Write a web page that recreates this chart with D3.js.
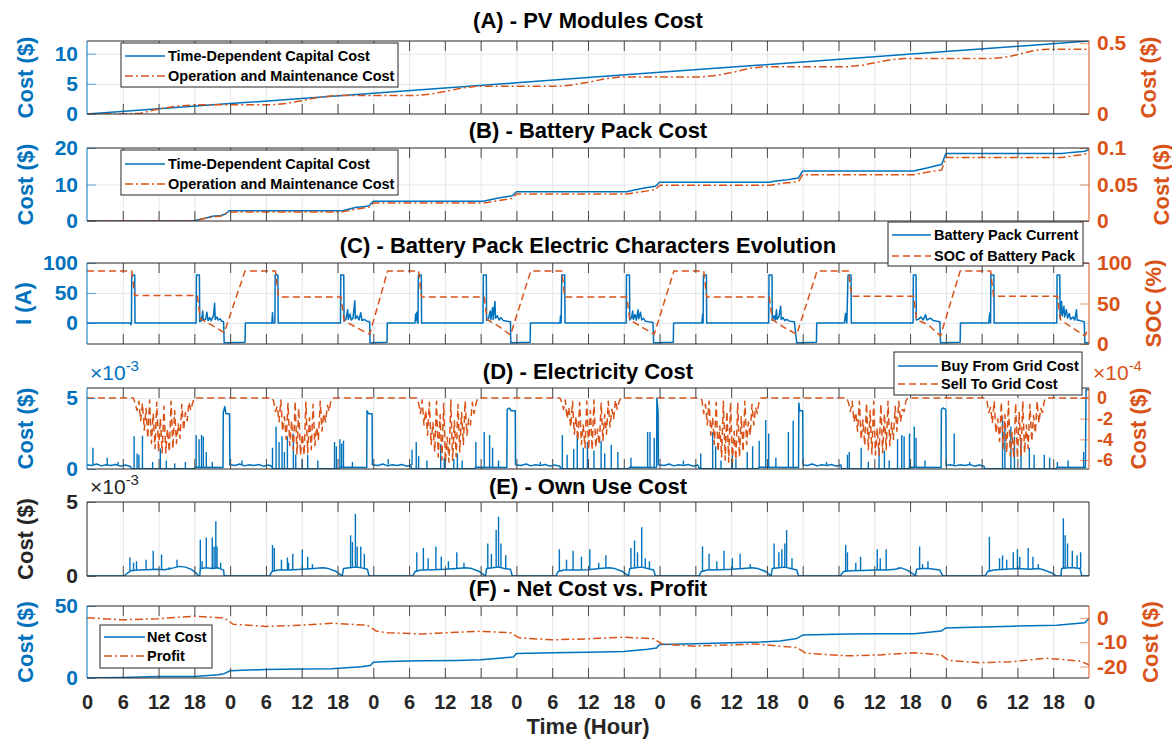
<!DOCTYPE html>
<html>
<head>
<meta charset="utf-8">
<script src="https://cdn.jsdelivr.net/npm/d3@7"></script>
<style>
  body { margin: 0; background: #fff; }
  svg text { font-family: "Liberation Sans", Arial, Helvetica, sans-serif; }
</style>
</head>
<body>
<svg id="chart" width="1172" height="740"></svg>
<script>
// ---------- data (hours 0..168, seven days) ----------
var xTickHours = [0,6,12,18,24,30,36,42,48,54,60,66,72,78,84,90,96,102,108,114,120,126,132,138,144,150,156,162,168];
var xTickLabels = ['0','6','12','18','0','6','12','18','0','6','12','18','0','6','12','18','0','6','12','18','0','6','12','18','0','6','12','18','0'];

// (A) PV modules cost
var pvCapital = [[0,0],[24,1.72],[48,3.45],[72,5.17],[96,6.9],[120,8.62],[144,10.35],[168,12.1]];
var pvOM = [[0,0],[6.5,0],[9,0.006],[12,0.035],[15,0.055],[18,0.065],
  [31,0.065],[33.5,0.075],[36.5,0.098],[39,0.12],[41.5,0.13],
  [55,0.13],[57.5,0.14],[60.5,0.163],[63,0.185],[65.5,0.196],
  [79,0.196],[81.5,0.206],[84.5,0.228],[87,0.25],[89.5,0.262],
  [103,0.262],[105.5,0.272],[108.5,0.296],[111,0.322],[113.5,0.334],
  [127.4,0.334],[130,0.345],[132.5,0.365],[135,0.385],[137,0.393],
  [152,0.393],[154.5,0.405],[157,0.43],[159,0.45],[161,0.458],[168,0.458]];

// (B) battery pack cost
var batCapital = [[0,0],[17.8,0],[18.5,0.3],[20,0.8],[21,1.3],[22.5,1.5],[23.3,2.0],[23.8,2.8],
  [42.8,2.8],[43.5,3.1],[45,3.7],[46.5,4.0],[47.3,4.2],[48,5.4],
  [66.5,5.4],[67.2,5.7],[69,6.3],[70.5,6.7],[71.3,6.9],[72,8.0],
  [90.5,8.0],[91.2,8.3],[93,8.9],[94.5,9.3],[95.3,9.5],[96,10.6],
  [114.5,10.6],[115.2,10.9],[117,11.2],[118.5,11.6],[119.3,11.8],[120,13.7],
  [138.6,13.7],[139.3,14.0],[141,14.6],[142.5,15.2],[143.3,15.5],[144,18.5],
  [163.5,18.5],[165,18.8],[166.5,19.0],[167.3,19.1],[168,19.6]];
var batOM = [[0,0],[17.8,0],[20,0.004],[22.5,0.007],[23.8,0.0125],
  [42.8,0.0125],[45,0.016],[47.3,0.019],[48,0.0245],
  [66.5,0.0245],[69,0.028],[71.3,0.031],[72,0.037],
  [90.5,0.037],[93,0.04],[95.3,0.043],[96,0.049],
  [114.5,0.049],[117,0.052],[119.3,0.054],[120,0.0635],
  [138.6,0.0635],[141,0.067],[143.3,0.07],[144,0.087],
  [163.5,0.087],[165,0.089],[167.3,0.0915],[168,0.095]];

// (C) battery current (A) and state of charge (%)
var batCurrent = [[0,0],[7.3,0],[7.35,-3],[7.45,0],[7.5,80],[8.0,80],[8.05,0],
  [18.3,0],[18.35,80],[18.85,80],[18.9,2],[19.2,4],[19.4,20],[19.5,5],[19.9,6],[20.1,18],[20.3,4],[20.6,9],[20.8,4],[21.2,12],[21.4,33],[21.5,6],[21.8,10],[22.0,5],[22.3,7],[22.6,3],[22.9,2],[23.0,-33],
  [26.5,-32],[26.55,0],[31.0,0],[31.1,17],[31.2,0],[31.5,0],[31.55,80],[32.0,80],[32.05,0],
  [42.5,0],[42.55,80],[43.05,80],[43.1,3],[43.4,6],[43.7,22],[43.8,6],[44.1,15],[44.3,5],[44.6,8],[44.9,37],[45.0,7],[45.3,12],[45.6,5],[45.9,17],[46.1,4],[46.5,6],[46.9,3],[47.4,2],[47.45,-33],
  [50.3,-32],[50.35,0],[55.0,0],[55.1,15],[55.2,5],[55.3,18],[55.4,0],[55.5,0],[55.55,80],[56.05,80],[56.1,0],
  [66.4,0],[66.45,80],[66.95,80],[67.0,4],[67.3,7],[67.6,20],[67.7,5],[68.0,26],[68.1,6],[68.4,36],[68.5,8],[68.8,12],[69.1,5],[69.4,9],[69.8,4],[70.4,3],[71.0,2],[71.05,-33],
  [74.3,-32],[74.35,0],[79.3,0],[79.4,12],[79.5,0],[79.6,80],[80.1,80],[80.15,0],
  [90.4,0],[90.45,80],[90.95,80],[91.0,5],[91.3,9],[91.5,20],[91.6,6],[91.9,14],[92.1,5],[92.4,22],[92.5,7],[92.8,18],[93.0,5],[93.3,8],[93.6,3],[94.2,2],[94.9,1],[95.0,-33],
  [98.3,-32],[98.35,0],[103.1,0],[103.2,14],[103.3,0],[103.35,80],[103.85,80],[103.9,0],
  [114.3,0],[114.35,80],[114.85,80],[114.9,4],[115.2,12],[115.4,5],[115.6,22],[115.7,6],[116.0,10],[116.3,28],[116.4,6],[116.7,9],[117.0,4],[117.3,6],[117.8,3],[118.6,2],[119.0,-33],
  [122.3,-32],[122.35,0],[127.0,0],[127.1,10],[127.2,16],[127.3,5],[127.4,0],[127.6,80],[128.1,80],[128.15,0],
  [138.5,0],[138.55,80],[139.0,80],[139.05,5],[139.4,6],[139.8,10],[140.2,5],[140.6,14],[140.8,5],[141.4,8],[141.9,4],[142.5,3],[143.0,2],[143.1,-33],
  [146.4,-32],[146.45,0],[151.2,0],[151.3,12],[151.4,17],[151.5,0],[151.55,80],[152.05,80],[152.1,0],
  [162.6,0],[162.65,80],[163.1,80],[163.15,8],[163.4,36],[163.5,12],[163.8,28],[163.9,10],[164.2,22],[164.4,8],[164.7,16],[164.9,6],[165.3,10],[165.6,5],[165.9,22],[166.0,5],[166.5,4],[167.2,2],[167.3,-33],[168,-33]];
var batSOC = [[0,90],[7.5,90],[8.0,60],[18.5,60],[19.0,31],[21,23],[23,14],[26.5,90],
  [31.6,90],[32.1,58],[42.6,58],[43.1,29],[45,21],[47.4,12],[50.4,90],
  [55.6,90],[56.1,58],[66.6,58],[67.1,30],[69,22],[71,11],[74.4,90],
  [79.6,90],[80.1,58],[90.5,58],[91,30],[93,21],[95.1,12],[98.4,90],
  [103.4,90],[103.9,58],[114.4,58],[114.9,30],[117,20],[119,12],[122.4,90],
  [127.7,90],[128.2,59],[138.6,59],[139.1,30],[141,24],[143.1,10],[146.4,90],
  [151.5,90],[152,59],[162.7,59],[163.2,30],[165,21],[167.3,10],[168,20]];

// (D) buy from grid (x1e-3 $): base line and spikes [hour, from, to]
var gridBuyBase = [[0,0.3],[0.8,0.25],[1.6,0.35],[2.4,0.22],[3.2,0.3],[4.0,0.25],[4.8,0.32],[5.6,0.2],[6.4,0.28],[7.2,0.2],[7.5,0.02],[18.0,0.02],[18.2,0.12],[22.8,0.1],[22.85,4.0],[23.1,4.4],[23.3,3.9],[23.9,3.9],[23.95,0.3],
  [24.8,0.25],[25.6,0.35],[26.4,0.22],[27.2,0.3],[28.0,0.25],[28.8,0.32],[29.6,0.2],[30.4,0.28],[31.0,0.2],[31.1,0.02],[42.3,0.02],[42.5,0.12],[46.9,0.1],[46.95,4.1],[47.2,3.9],[47.8,3.9],[47.85,0.3],
  [48.8,0.25],[49.6,0.35],[50.4,0.22],[51.2,0.3],[52.0,0.25],[52.8,0.32],[53.6,0.2],[54.3,0.28],[54.4,0.02],[65.0,0.02],[65.2,0.12],[70.4,0.1],[70.45,4.2],[70.8,4.3],[71.1,4.1],[71.8,4.1],[71.85,0.3],
  [72.8,0.25],[73.6,0.35],[74.4,0.22],[75.2,0.3],[76.0,0.25],[76.8,0.32],[77.6,0.2],[78.4,0.28],[79.3,0.2],[79.4,0.02],[90.8,0.02],[91.0,0.12],[95.5,0.1],[95.55,5.0],[95.75,4.0],[95.8,0.3],
  [96.8,0.25],[97.6,0.35],[98.4,0.22],[99.2,0.3],[100.0,0.25],[100.8,0.32],[101.6,0.2],[102.4,0.28],[102.7,0.02],[112.5,0.02],[112.7,0.12],[119.3,0.1],[119.35,4.65],[119.5,4.1],[120.0,4.1],[120.05,0.28],
  [120.8,0.25],[121.6,0.35],[122.4,0.22],[123.2,0.3],[124.0,0.25],[124.8,0.32],[125.6,0.2],[126.4,0.28],[126.5,0.02],[137.7,0.02],[137.9,0.12],[143.2,0.1],[143.25,4.2],[143.5,4.3],[144.0,4.2],[144.05,0.25],
  [144.8,0.3],[145.6,0.22],[146.4,0.3],[147.2,0.25],[148.0,0.32],[148.8,0.2],[149.6,0.28],[150.4,0.2],[150.5,0.02],[162.5,0.02],[162.7,0.12],[167.4,0.1],[167.5,5.6],[168,5.6]];
var gridBuySpikes = [[1.0,0.3,1.5],[3.4,0.3,0.8],[5.2,0.3,0.5],[7.9,0.02,2.3],[8.4,0.02,1.1],[8.7,0.02,1.0],[9.3,0.02,2.35],[11.0,0.02,0.5],[12.3,0.02,1.45],[13.3,0.02,0.6],[14.7,0.02,0.4],[16.5,0.02,0.5],[18.3,0.1,2.4],[18.8,0.1,2.1],[19.2,0.1,2.4],[19.5,0.1,2.3],[20.0,0.1,1.2],[21.0,0.1,0.5],
  [26.0,0.3,0.6],[31.1,0.02,1.5],[31.7,0.02,3.0],[32.2,0.02,1.9],[32.7,0.02,2.3],[33.1,0.02,1.2],[33.6,0.02,2.3],[34.6,0.02,2.5],[35.0,0.02,1.0],[36.1,0.02,0.7],[37.0,0.02,1.0],[38.7,0.02,0.6],[41.5,0.02,1.9],[41.8,0.02,1.6],[42.4,0.1,2.1],[42.7,0.1,1.8],[43.0,0.1,2.0],[44.5,0.1,0.5],
  [50.5,0.3,0.7],[54.5,0.28,1.35],[55.2,0.02,1.9],[55.6,0.02,0.9],[57.0,0.02,0.6],[59.3,0.02,1.75],[59.9,0.02,0.8],[61.5,0.02,0.7],[62.1,0.02,1.1],[62.9,0.02,0.6],[65.2,0.1,1.9],[66.6,0.1,2.6],[67.5,0.1,2.4],[68.0,0.1,1.5],[69.0,0.1,0.6],
  [76.0,0.3,0.5],[79.7,0.02,2.4],[80.5,0.02,1.0],[81.6,0.02,1.4],[82.2,0.02,2.4],[83.2,0.02,1.5],[83.9,0.02,1.9],[85.0,0.02,1.3],[86.2,0.02,2.0],[86.8,0.02,1.1],[87.9,0.02,1.7],[89.0,0.02,1.2],[91.2,0.1,0.8],[94.0,0.1,2.6],[94.4,0.1,2.6],[95.1,0.1,2.2],
  [100.0,0.3,0.6],[102.9,0.02,1.1],[104.9,0.02,2.6],[105.4,0.02,1.6],[106.3,0.02,0.6],[108.2,0.02,1.0],[108.8,0.02,0.7],[110.7,0.02,1.2],[111.6,0.02,1.6],[112.7,0.1,2.0],[113.8,0.1,3.45],[114.3,0.1,2.5],[115.5,0.1,0.8],[117.6,0.1,2.6],[118.4,0.1,3.4],
  [124.0,0.3,0.5],[127.5,0.02,1.0],[127.8,0.02,1.2],[129.8,0.02,1.5],[131.0,0.02,0.5],[132.8,0.02,1.5],[133.7,0.02,1.3],[134.5,0.02,0.6],[135.9,0.02,2.1],[136.6,0.02,2.4],[137.0,0.02,2.3],[137.9,0.1,2.5],[138.7,0.1,3.0],[139.0,0.1,2.2],[140.5,0.1,0.6],[145.4,0.3,2.5],
  [148.0,0.3,0.5],[153.5,0.02,3.7],[153.9,0.02,3.0],[154.9,0.02,3.0],[155.5,0.02,2.3],[156.6,0.02,2.0],[158.0,0.02,1.5],[158.8,0.02,1.0],[160.5,0.02,1.0],[161.4,0.02,0.8],[162.7,0.1,0.5],[164.5,0.1,0.6],[167.1,0.1,1.2]];

// (D) sell to grid (x1e-4 $), one daytime run per day, sampled every 0.3 h
var sellStarts = [7.8, 31.0, 55.3, 79.3, 102.8, 127.4, 150.6];
var sellStep = 0.3;
var sellDay1 = [0,-0.6,-1.2,-0.3,-2.2,-0.5,-3.1,-1.0,-3.9,-0.2,-4.4,-1.5,-4.9,-0.4,-5.2,-2.0,-5.3,-0.8,-5.3,-3.0,-5.2,-0.3,-4.9,-1.2,-4.4,-2.5,-3.9,-0.6,-3.1,-1.4,-2.2,-0.4,-1.2,-0.5,0];
var sellDay2 = [0,-0.3,-1.3,-0.8,-2.3,-0.2,-3.2,-1.8,-4.0,-0.5,-4.6,-2.2,-5.0,-0.3,-5.4,-1.0,-5.5,-3.5,-5.5,-0.4,-5.3,-1.9,-5.0,-0.6,-4.6,-2.8,-4.0,-0.3,-3.2,-1.5,-2.3,-0.7,-1.3,-0.2,0];
var sellDay3 = [0,-0.5,-1.5,-0.2,-2.6,-1.2,-3.6,-0.4,-4.5,-2.4,-5.2,-0.3,-5.7,-1.6,-6.0,-0.5,-6.2,-3.8,-6.2,-0.2,-6.0,-2.2,-5.7,-0.6,-5.2,-1.4,-4.5,-0.3,-3.6,-2.0,-2.6,-0.4,-1.5,-0.6,0];
var sellDay4 = [0,-0.4,-1.1,-0.2,-2.0,-0.9,-2.8,-0.3,-3.5,-1.8,-4.1,-0.4,-4.5,-2.6,-4.8,-0.3,-5.0,-1.2,-5.0,-0.2,-4.8,-3.0,-4.5,-0.5,-4.1,-1.6,-3.5,-0.3,-2.8,-1.1,-2.0,-0.2,-1.1,-0.4,0];
var sellDay5 = [0,-0.2,-1.5,-0.6,-2.6,-0.3,-3.6,-1.9,-4.5,-0.4,-5.2,-2.7,-5.7,-0.3,-6.0,-1.3,-6.2,-0.4,-6.2,-3.2,-6.0,-0.5,-5.7,-1.8,-5.2,-0.3,-4.5,-2.3,-3.6,-0.6,-2.6,-0.9,-1.5,-0.2,0];
var sellDay6 = [0,-0.5,-1.3,-0.3,-2.3,-1.4,-3.2,-0.3,-4.0,-2.1,-4.6,-0.5,-5.0,-1.2,-5.4,-0.3,-5.5,-2.9,-5.5,-0.6,-5.3,-1.5,-5.0,-0.3,-4.6,-2.4,-4.0,-0.8,-3.2,-0.3,-2.3,-1.1,-1.3,-0.3,0];
var sellDay7 = [0,-0.3,-1.4,-0.9,-2.4,-0.3,-3.4,-2.0,-4.2,-0.4,-4.9,-1.6,-5.3,-0.3,-5.6,-3.3,-5.8,-0.5,-5.8,-1.4,-5.6,-0.3,-5.3,-2.6,-4.9,-0.6,-4.2,-1.7,-3.4,-0.3,-2.4,-1.0,-1.4,-0.3,0];

// (E) own use cost (x1e-3 $)
var ownUseBase = [[0,0],[6.2,0],[6.8,0.2],[7.3,0.35],[8.5,0.4],[10,0.42],[11.5,0.45],[13,0.42],[14.5,0.55],[15.5,0.65],[16.5,0.6],[17.5,0.45],[18.3,0.2],[18.7,0],[18.9,0],[19.0,0.5],[20,0.55],[21,0.5],[22,0.55],[22.9,0.4],[23.0,0],
  [30.6,0],[31.0,0.3],[32,0.4],[34,0.4],[36,0.45],[38,0.5],[39.5,0.55],[40.5,0.5],[41.8,0.3],[42.5,0.1],[42.8,0],[43.0,0.5],[44,0.55],[45,0.6],[46,0.55],[47,0.45],[47.3,0],
  [54.6,0],[55.0,0.3],[56,0.4],[58,0.42],[60,0.45],[62,0.5],[63.5,0.55],[64.5,0.5],[65.8,0.3],[66.5,0.1],[66.8,0],[67.0,0.5],[68,0.55],[69,0.6],[70,0.5],[71,0.45],[71.3,0],
  [78.6,0],[79.0,0.3],[80,0.4],[82,0.4],[84,0.42],[86,0.5],[87.5,0.55],[88.5,0.5],[89.8,0.3],[90.5,0.1],[90.8,0],[91.0,0.5],[92,0.55],[93,0.6],[94,0.5],[95,0.4],[95.3,0],
  [102.6,0],[103.0,0.3],[104,0.4],[106,0.42],[108,0.45],[110,0.5],[111.5,0.55],[112.5,0.5],[113.8,0.3],[114.4,0.1],[114.7,0],[114.9,0.5],[116,0.55],[117,0.6],[118,0.5],[119,0.4],[119.3,0],
  [126.3,0],[126.8,0.3],[128,0.35],[130,0.38],[132,0.4],[134,0.4],[135.5,0.45],[136.5,0.55],[137.5,0.4],[138.5,0.15],[138.9,0],[139.1,0.45],[140,0.5],[141,0.5],[142,0.45],[143,0.4],[143.5,0],
  [150.6,0],[151.0,0.3],[152,0.4],[154,0.45],[156,0.5],[158,0.45],[159.5,0.5],[160.5,0.4],[161.8,0.2],[162.5,0],[163.3,0],[163.4,0.5],[164.5,0.55],[165.5,0.55],[166.5,0.5],[166.8,0],[168,0]];
var ownUseSpikes = [[7.2,0.35,1.25],[7.8,0.38,0.9],[8.3,0.4,1.0],[9.9,0.42,1.1],[11.1,0.44,1.7],[12.5,0.44,1.45],[13.8,0.42,0.6],[15.1,0.6,1.1],[19.0,0.5,2.45],[19.3,0.5,1.0],[20.0,0.55,2.6],[21.0,0.5,2.6],[21.3,0.5,2.0],[21.6,0.5,3.7],[21.8,0.5,2.0],[22.4,0.5,0.9],
  [31.1,0.3,2.1],[31.4,0.35,1.9],[32.6,0.4,1.1],[33.6,0.4,1.25],[33.8,0.4,0.9],[34.5,0.4,1.5],[36.1,0.45,1.8],[37.0,0.45,1.3],[37.8,0.48,0.8],[39.8,0.55,0.6],[44.2,0.55,2.75],[44.5,0.55,2.3],[45.0,0.6,4.2],[45.3,0.6,2.0],[45.9,0.55,2.0],[46.5,0.5,1.5],
  [55.3,0.3,1.6],[56.4,0.4,1.9],[57.2,0.4,1.2],[58.5,0.42,2.0],[59.4,0.43,1.3],[60.6,0.45,1.0],[62.0,0.5,1.6],[63.2,0.53,0.9],[67.2,0.5,2.2],[67.8,0.55,1.5],[68.6,0.6,3.1],[69.0,0.6,4.0],[69.4,0.55,2.2],[70.2,0.5,1.4],
  [79.2,0.3,1.8],[80.4,0.4,1.1],[81.5,0.4,1.7],[82.9,0.41,1.3],[84.3,0.42,1.8],[85.8,0.5,0.9],[87.0,0.53,1.4],[91.2,0.5,1.9],[91.8,0.55,2.4],[92.3,0.55,1.6],[93.0,0.6,3.3],[93.6,0.55,1.2],[94.3,0.5,1.0],
  [103.2,0.3,2.0],[104.3,0.4,1.5],[105.6,0.42,1.0],[106.8,0.43,1.7],[108.2,0.45,1.2],[109.5,0.48,1.5],[111.2,0.55,0.8],[115.2,0.5,2.2],[116.0,0.55,1.6],[116.5,0.55,1.8],[117.0,0.6,2.2],[117.3,0.6,3.1],[118.2,0.5,1.2],
  [127.2,0.3,2.1],[127.5,0.32,1.6],[128.9,0.36,0.9],[129.7,0.37,1.3],[132.5,0.4,1.8],[133.0,0.4,1.2],[134.0,0.4,1.8],[136.1,0.5,0.6],[139.6,0.45,2.0],[140.1,0.5,0.8],[141.0,0.5,1.0],
  [151.3,0.3,2.65],[153.0,0.45,1.2],[153.5,0.45,1.4],[154.2,0.46,1.1],[155.3,0.48,1.6],[156.0,0.5,1.8],[156.4,0.5,1.3],[157.8,0.46,1.9],[158.6,0.45,1.3],[159.5,0.5,0.8],[163.7,0.5,3.9],[164.0,0.5,2.75],[164.4,0.55,2.2],[165.2,0.55,1.7],[166.0,0.55,1.4],[166.6,0.5,1.6]];

// (F) net cost and profit
var netCost = [[0,0],[6,0.4],[12,1.1],[18,1.1],[22,2.3],[23,3],[24,5.0],[30,5.9],[36,6.2],[41,6.4],[46,7.8],[47.5,8.7],[48,11],[50.4,11.4],[56,11.9],[62,12.2],[66,12.6],[70,14],[71.5,14.6],[72,17],[78,17.5],[84,17.9],[90,18.4],[94,20],[95.5,20.8],[96,23.3],[102,23.8],[108,24.5],[113,25],[116.2,25.7],[119,27.5],[120,29.8],[127.6,30.6],[133,30.7],[138.7,30.7],[143.2,32.6],[144,34.8],[150,35.4],[155.3,36],[162.6,36.7],[167.3,38.3],[168,41.3]];
var profit = [[0,0.1],[6,-0.8],[12,-0.3],[18,0.7],[23,0],[24.5,-2.6],[30,-3.5],[36,-3.0],[41,-2.2],[47,-3.0],[48.5,-5.4],[50.4,-6.1],[56,-6.6],[62,-5.9],[66,-5.5],[71,-6.1],[72.5,-8.2],[78,-9.0],[84,-8.6],[90,-7.9],[95,-8.6],[96.5,-10.8],[102,-11.6],[108,-11.1],[112,-10.7],[116.2,-11.6],[119,-12.2],[120.5,-14.5],[127.6,-15.6],[133,-15.2],[138.7,-14.3],[143.2,-15.2],[144.5,-17.5],[149.7,-18.4],[155,-18.0],[160.8,-16.6],[166.4,-17.7],[168,-19.3]];

// ---------- drawing ----------
var BLUE = '#0072BD', ORANGE = '#D95319', DARK = '#262626';
var DASHDOT = '8,3,2,3', DASHED = '7,4';
var svg = d3.select('#chart');
var x = d3.scaleLinear().domain([0, 168]).range([87, 1089]);

// sell-to-grid series assembled from the daily runs
var sellDays = [sellDay1, sellDay2, sellDay3, sellDay4, sellDay5, sellDay6, sellDay7];
var gridSell = [[0, 0]];
sellDays.forEach(function (vals, k) {
  vals.forEach(function (v, i) { gridSell.push([sellStarts[k] + i * sellStep, v]); });
});
gridSell.push([168, 0]);

var panels = [
  { id: 'A', top: 41, bottom: 114, title: '(A) - PV Modules Cost', titleY: 28,
    left: { domain: [0, 12.1], ticks: [0, 5, 10], labels: ['0', '5', '10'], grid: [5, 10], color: BLUE, label: 'Cost ($)', labelX: 25 },
    right: { domain: [0, 0.516], ticks: [0, 0.5], labels: ['0', '0.5'], color: ORANGE, label: 'Cost ($)', labelX: 1148 },
    series: [{ data: pvCapital, side: 'left', color: BLUE }, { data: pvOM, side: 'right', color: ORANGE, dash: DASHDOT }],
    legend: { x: 121, y: 43, w: 277, h: 44, lx: [125, 165], tx: 168, rows: [56, 76],
      items: [['Time-Dependent Capital Cost', BLUE, null], ['Operation and Maintenance Cost', ORANGE, DASHDOT]] } },
  { id: 'B', top: 148, bottom: 221, title: '(B) - Battery Pack Cost', titleY: 138,
    left: { domain: [0, 20], ticks: [0, 10, 20], labels: ['0', '10', '20'], grid: [10], color: BLUE, label: 'Cost ($)', labelX: 25 },
    right: { domain: [0, 0.1], ticks: [0, 0.05, 0.1], labels: ['0', '0.05', '0.1'], color: ORANGE, label: 'Cost ($)', labelX: 1161 },
    series: [{ data: batCapital, side: 'left', color: BLUE }, { data: batOM, side: 'right', color: ORANGE, dash: DASHDOT }],
    legend: { x: 121, y: 150, w: 277, h: 45, lx: [125, 165], tx: 168, rows: [164, 184],
      items: [['Time-Dependent Capital Cost', BLUE, null], ['Operation and Maintenance Cost', ORANGE, DASHDOT]] } },
  { id: 'C', top: 263, bottom: 344, title: '(C) - Battery Pack Electric Characters Evolution', titleY: 253,
    left: { domain: [-35, 100], ticks: [0, 50, 100], labels: ['0', '50', '100'], grid: [0, 50], color: BLUE, label: 'I (A)', labelX: 23 },
    right: { domain: [0, 100], ticks: [0, 50, 100], labels: ['0', '50', '100'], color: ORANGE, label: 'SOC (%)', labelX: 1153 },
    series: [{ data: batCurrent, side: 'left', color: BLUE }, { data: batSOC, side: 'right', color: ORANGE, dash: DASHED }],
    legend: { x: 888, y: 222, w: 195, h: 44, lx: [892, 931], tx: 934, rows: [235, 256],
      items: [['Battery Pack Current', BLUE, null], ['SOC of Battery Pack', ORANGE, DASHED]] } },
  { id: 'D', top: 388, bottom: 469, title: '(D) - Electricity Cost', titleY: 379,
    left: { domain: [0, 5.71], ticks: [0, 5], labels: ['0', '5'], grid: [5], color: BLUE, label: 'Cost ($)', labelX: 25, exp: '-3' },
    right: { domain: [-6.86, 0.97], ticks: [-6, -4, -2, 0], labels: ['-6', '-4', '-2', '0'], color: ORANGE, label: 'Cost ($)', labelX: 1138, exp: '-4', fontSize: 18 },
    series: [{ data: gridBuySpikes, side: 'left', color: BLUE, type: 'stems' }, { data: gridBuyBase, side: 'left', color: BLUE },
      { data: gridSell, side: 'right', color: ORANGE, dash: DASHED }],
    legend: { x: 894, y: 352, w: 188, h: 43, lx: [898, 938], tx: 941, rows: [366, 384],
      items: [['Buy From Grid Cost', BLUE, null], ['Sell To Grid Cost', ORANGE, DASHED]] } },
  { id: 'E', top: 502, bottom: 576, title: '(E) - Own Use Cost', titleY: 494,
    left: { domain: [0, 5], ticks: [0, 5], labels: ['0', '5'], grid: [], color: DARK, label: 'Cost ($)', labelX: 25, exp: '-3' },
    right: null,
    series: [{ data: ownUseSpikes, side: 'left', color: BLUE, type: 'stems' }, { data: ownUseBase, side: 'left', color: BLUE }],
    legend: null },
  { id: 'F', top: 606, bottom: 678, title: '(F) - Net Cost vs. Profit', titleY: 596,
    left: { domain: [0, 50], ticks: [0, 50], labels: ['0', '50'], grid: [], color: BLUE, label: 'Cost ($)', labelX: 25 },
    right: { domain: [-24.7, 4.9], ticks: [-20, -10, 0], labels: ['-20', '-10', '0'], color: ORANGE, label: 'Cost ($)', labelX: 1150 },
    series: [{ data: netCost, side: 'left', color: BLUE }, { data: profit, side: 'right', color: ORANGE, dash: DASHDOT }],
    legend: { x: 100, y: 625, w: 112, h: 43, lx: [104, 145], tx: 147, rows: [637, 656],
      items: [['Net Cost', BLUE, null], ['Profit', ORANGE, DASHDOT]] } }
];

var defs = svg.append('defs');
var x0 = x(0), x1 = x(168);

function styleAxis(a, color) {
  a.select('.domain').remove();
  a.selectAll('.tick line').attr('stroke', color);
}

panels.forEach(function (p) {
  var g = svg.append('g');
  var h = p.bottom - p.top;
  var yL = d3.scaleLinear().domain(p.left.domain).range([p.bottom, p.top]);
  var yR = p.right ? d3.scaleLinear().domain(p.right.domain).range([p.bottom, p.top]) : null;

  defs.append('clipPath').attr('id', 'clip' + p.id).append('rect')
    .attr('x', x0).attr('y', p.top).attr('width', x1 - x0).attr('height', h);

  // grid
  g.append('g').attr('transform', 'translate(0,' + p.bottom + ')')
    .call(d3.axisBottom(x).tickValues(xTickHours.slice(1, -1)).tickSize(-h).tickFormat(''))
    .call(function (a) { styleAxis(a, '#e6e6e6'); });
  if (p.left.grid.length) {
    g.append('g').attr('transform', 'translate(' + x0 + ',0)')
      .call(d3.axisLeft(yL).tickValues(p.left.grid).tickSize(-(x1 - x0)).tickFormat(''))
      .call(function (a) { styleAxis(a, '#dce8f3'); });
  }

  // series
  var plot = g.append('g').attr('clip-path', 'url(#clip' + p.id + ')');
  p.series.forEach(function (s) {
    var y = s.side === 'right' ? yR : yL;
    if (s.type === 'stems') {
      plot.append('g').selectAll('line').data(s.data).join('line')
        .attr('x1', function (d) { return x(d[0]); }).attr('x2', function (d) { return x(d[0]); })
        .attr('y1', function (d) { return y(d[1]); }).attr('y2', function (d) { return y(d[2]); })
        .attr('stroke', s.color).attr('stroke-width', 1.4);
    } else {
      plot.append('path').datum(s.data)
        .attr('d', d3.line().x(function (d) { return x(d[0]); }).y(function (d) { return y(d[1]); }))
        .attr('fill', 'none').attr('stroke', s.color).attr('stroke-width', 1.5)
        .attr('stroke-linejoin', 'round')
        .attr('stroke-dasharray', s.dash || null);
    }
  });

  // x ticks, inward on top and bottom
  g.append('g').attr('transform', 'translate(0,' + p.bottom + ')')
    .call(d3.axisBottom(x).tickValues(xTickHours.slice(1, -1)).tickSize(-10).tickFormat(''))
    .call(function (a) { styleAxis(a, '#4a4a4a'); });
  g.append('g').attr('transform', 'translate(0,' + p.top + ')')
    .call(d3.axisTop(x).tickValues(xTickHours.slice(1, -1)).tickSize(-10).tickFormat(''))
    .call(function (a) { styleAxis(a, '#4a4a4a'); });

  // y axes
  var la = g.append('g').attr('transform', 'translate(' + x0 + ',0)')
    .call(d3.axisLeft(yL).tickValues(p.left.ticks).tickSize(-9).tickPadding(9)
      .tickFormat(function (d, i) { return p.left.labels[i]; }));
  styleAxis(la, p.left.color);
  la.selectAll('.tick line').attr('stroke-opacity', 0.6);
  la.selectAll('text').attr('fill', p.left.color).attr('font-size', 21).attr('font-weight', 'bold');

  if (p.right) {
    var ra = g.append('g').attr('transform', 'translate(' + x1 + ',0)')
      .call(d3.axisRight(yR).tickValues(p.right.ticks).tickSize(-9).tickPadding(8)
        .tickFormat(function (d, i) { return p.right.labels[i]; }));
    styleAxis(ra, p.right.color);
    ra.selectAll('.tick line').attr('stroke-opacity', 0.6);
    ra.selectAll('text').attr('fill', p.right.color).attr('font-size', p.right.fontSize || 21).attr('font-weight', 'bold');
  }

  // frame
  g.append('line').attr('x1', x0).attr('x2', x1).attr('y1', p.top).attr('y2', p.top).attr('stroke', DARK);
  g.append('line').attr('x1', x0).attr('x2', x1).attr('y1', p.bottom).attr('y2', p.bottom).attr('stroke', DARK);
  g.append('line').attr('x1', x0).attr('x2', x0).attr('y1', p.top).attr('y2', p.bottom).attr('stroke', p.left.color);
  g.append('line').attr('x1', x1).attr('x2', x1).attr('y1', p.top).attr('y2', p.bottom)
    .attr('stroke', p.right ? p.right.color : DARK);

  // labels
  var cy = (p.top + p.bottom) / 2;
  g.append('text').attr('transform', 'translate(' + p.left.labelX + ',' + cy + ') rotate(-90)')
    .attr('text-anchor', 'middle').attr('dominant-baseline', 'central')
    .attr('font-size', 22).attr('font-weight', 'bold').attr('fill', p.left.color).text(p.left.label);
  if (p.right) {
    g.append('text').attr('transform', 'translate(' + p.right.labelX + ',' + cy + ') rotate(-90)')
      .attr('text-anchor', 'middle').attr('dominant-baseline', 'central')
      .attr('font-size', 22).attr('font-weight', 'bold').attr('fill', p.right.color).text(p.right.label);
  }
  g.append('text').attr('x', (x0 + x1) / 2).attr('y', p.titleY).attr('text-anchor', 'middle')
    .attr('font-size', 22).attr('font-weight', 'bold').attr('fill', '#000').text(p.title);

  // exponent labels
  function expLabel(ax, ex, color) {
    var t = g.append('text').attr('x', ax).attr('y', p.top - 8).attr('font-size', 21).attr('fill', color);
    t.append('tspan').text('\u00d710');
    t.append('tspan').attr('dy', -9).attr('font-size', 15).text(ex);
  }
  if (p.left.exp) expLabel(x0 + 3, p.left.exp, p.left.color);
  if (p.right && p.right.exp) expLabel(x1 + 4, p.right.exp, p.right.color);

  // legend
  if (p.legend) {
    var L = p.legend;
    var lg = g.append('g');
    lg.append('rect').attr('x', L.x).attr('y', L.y).attr('width', L.w).attr('height', L.h)
      .attr('fill', '#fff').attr('stroke', DARK).attr('stroke-width', 1);
    L.items.forEach(function (it, i) {
      lg.append('line').attr('x1', L.lx[0]).attr('x2', L.lx[1]).attr('y1', L.rows[i]).attr('y2', L.rows[i])
        .attr('stroke', it[1]).attr('stroke-width', 1.5).attr('stroke-dasharray', it[2]);
      lg.append('text').attr('x', L.tx).attr('y', L.rows[i]).attr('dominant-baseline', 'central')
        .attr('font-size', 14.5).attr('font-weight', 'bold').attr('fill', '#000').text(it[0]);
    });
  }
});

// bottom x labels
var last = panels[panels.length - 1];
var xa = svg.append('g').attr('transform', 'translate(0,' + last.bottom + ')')
  .call(d3.axisBottom(x).tickValues(xTickHours).tickSize(0).tickPadding(17)
    .tickFormat(function (d, i) { return xTickLabels[i]; }));
xa.select('.domain').remove();
xa.selectAll('text').attr('font-size', 20).attr('font-weight', 'bold').attr('fill', DARK);
svg.append('text').attr('x', (x0 + x1) / 2).attr('y', 734).attr('text-anchor', 'middle')
  .attr('font-size', 22).attr('font-weight', 'bold').attr('fill', DARK).text('Time (Hour)');
</script>
</body>
</html>
